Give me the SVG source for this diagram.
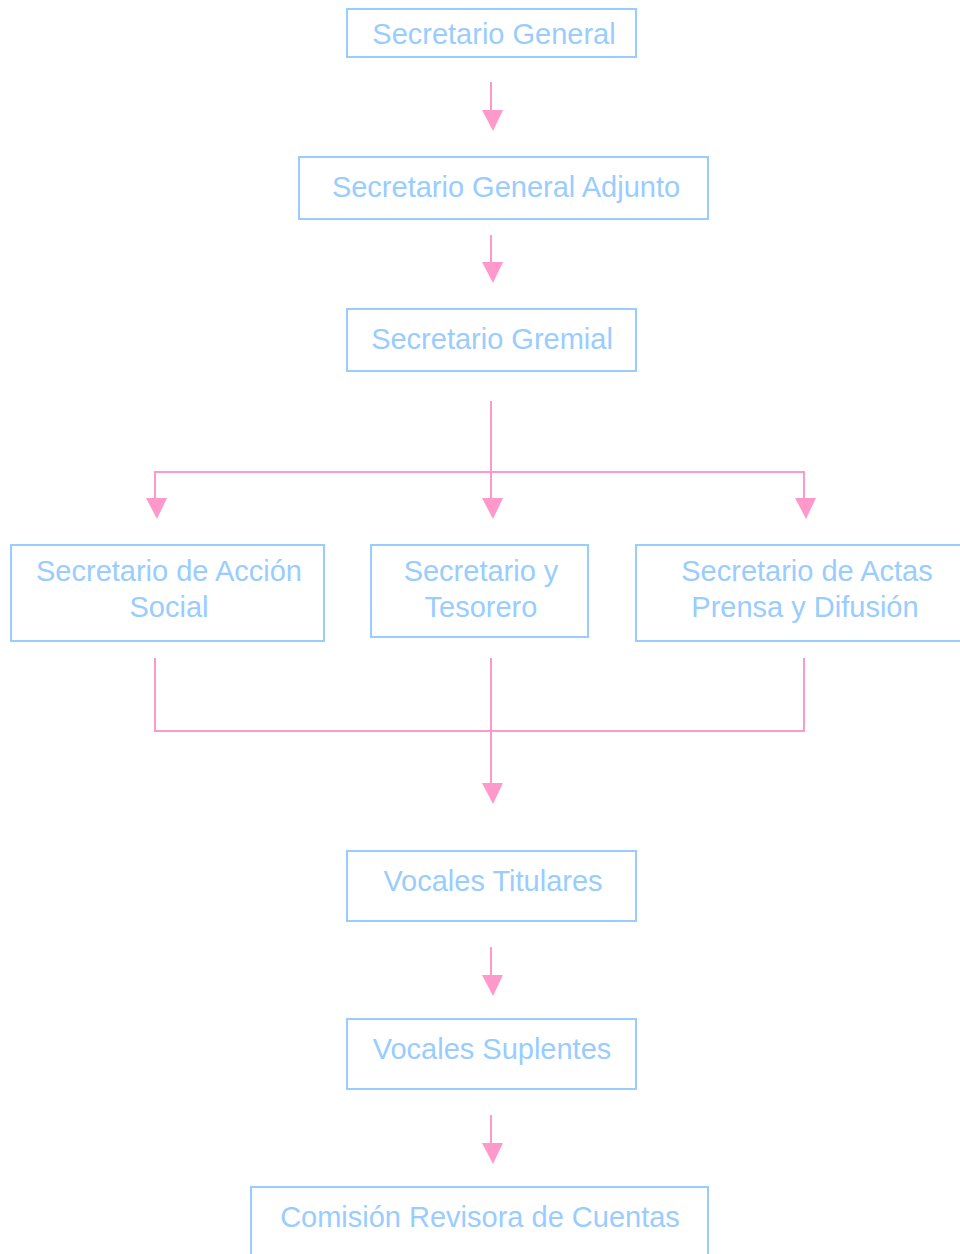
<svg xmlns="http://www.w3.org/2000/svg" width="960" height="1254" viewBox="0 0 960 1254">
<style>
.box{fill:#fff;stroke:#99ccff;stroke-width:2}
.t{font-family:"Liberation Sans",Arial,sans-serif;font-size:29px;fill:#99ccff;text-anchor:middle}
.c{fill:none;stroke:#ff99cc;stroke-width:2}
</style>
<defs>
<marker id="ah" viewBox="0 0 10 10" refX="10" refY="5" markerWidth="10" markerHeight="10" markerUnits="userSpaceOnUse" orient="auto">
<path d="M0,0 L10,5 L0,10 z" fill="#ff99cc"/>
</marker>
</defs>
<rect width="960" height="1254" fill="#fff"/>
<g id="connectors">
<line class="c" x1="491" y1="82" x2="491" y2="112"/>
<polygon points="482,110 503,110 493,131" fill="#ff99cc"/>
<line class="c" x1="491" y1="235" x2="491" y2="264"/>
<polygon points="482,262 503,262 493,283" fill="#ff99cc"/>
<polyline class="c" points="491,401 491,500"/>
<polyline class="c" points="155,500 155,472 804,472 804,500"/>
<polygon points="146,498 167,498 157,519" fill="#ff99cc"/>
<polygon points="482,498 503,498 493,519" fill="#ff99cc"/>
<polygon points="795,498 816,498 806,519" fill="#ff99cc"/>
<polyline class="c" points="155,658 155,731 804,731 804,658"/>
<line class="c" x1="491" y1="658" x2="491" y2="785"/>
<polygon points="482,783 503,783 493,804" fill="#ff99cc"/>
<line class="c" x1="491" y1="947" x2="491" y2="977"/>
<polygon points="482,975 503,975 493,996" fill="#ff99cc"/>
<line class="c" x1="491" y1="1115" x2="491" y2="1145"/>
<polygon points="482,1143 503,1143 493,1164" fill="#ff99cc"/>
</g>
<g id="n1"><rect class="box" x="347" y="9" width="289" height="48"/><text class="t" x="494" y="44">Secretario General</text></g>
<g id="n2"><rect class="box" x="299" y="157" width="409" height="62"/><text class="t" x="506" y="197">Secretario General Adjunto</text></g>
<g id="n3"><rect class="box" x="347" y="309" width="289" height="62"/><text class="t" x="492" y="349">Secretario Gremial</text></g>
<g id="n4"><rect class="box" x="11" y="545" width="313" height="96"/><text class="t" x="169" y="581">Secretario de Acción</text><text class="t" x="169" y="617">Social</text></g>
<g id="n5"><rect class="box" x="371" y="545" width="217" height="92"/><text class="t" x="481" y="581">Secretario y</text><text class="t" x="481" y="617">Tesorero</text></g>
<g id="n6"><rect class="box" x="636" y="545" width="330" height="96"/><text class="t" x="807" y="581">Secretario de Actas</text><text class="t" x="805" y="617">Prensa y Difusión</text></g>
<g id="n7"><rect class="box" x="347" y="851" width="289" height="70"/><text class="t" x="493" y="891">Vocales Titulares</text></g>
<g id="n8"><rect class="box" x="347" y="1019" width="289" height="70"/><text class="t" x="492" y="1059">Vocales Suplentes</text></g>
<g id="n9"><rect class="box" x="251" y="1187" width="457" height="80"/><text class="t" x="480" y="1227">Comisión Revisora de Cuentas</text></g>
</svg>
